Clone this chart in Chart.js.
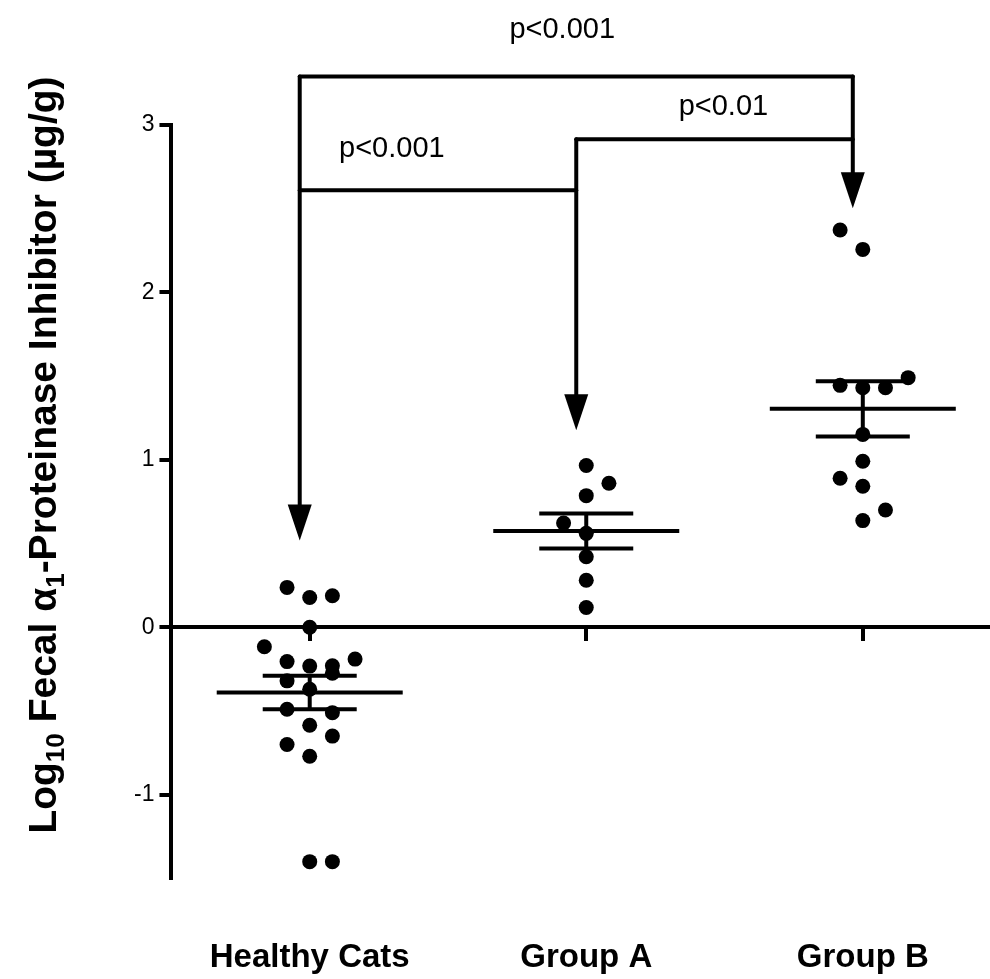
<!DOCTYPE html>
<html>
<head>
<meta charset="utf-8">
<script src="https://cdn.jsdelivr.net/npm/chart.js@4.4.1/dist/chart.umd.min.js"></script>
<style>
  body { margin: 0; background: #fff; }
</style>
</head>
<body>
<canvas id="myChart" width="990" height="979"></canvas>
<script>

var categories = ['Healthy Cats', 'Group A', 'Group B'];

// log10 values, lane = column of the dot inside its group
var healthyValues = [0.238, 0.178, 0.188, 0.0, -0.116, -0.205, -0.232, -0.23, -0.275, -0.19,
                     -0.32, -0.37, -0.49, -0.51, -0.585, -0.70, -0.65, -0.77, -1.40, -1.40];
var healthyLanes  = [-1, 0, 1, 0, -2, -1, 0, 1, 1, 2,
                     -1, 0, -1, 1, 0, -1, 1, 0, 0, 1];

var groupAValues = [0.966, 0.86, 0.786, 0.623, 0.561, 0.421, 0.281, 0.118];
var groupALanes  = [0, 1, 0, -1, 0, 0, 0, 0];

var groupBValues = [2.373, 2.257, 1.491, 1.445, 1.431, 1.431, 1.152, 0.992, 0.890, 0.842, 0.70, 0.637];
var groupBLanes  = [-1, 0, 2, -1, 0, 1, 0, 0, -1, 0, 1, 0];

var meanValues = [-0.39, 0.575, 1.305];
var semValues = [0.10, 0.105, 0.165];

var yTicks = [-1, 0, 1, 2, 3];

// significance brackets
var comparisons = [
    { from: 0, to: 2, level: 3.29, text: 'p<0.001', textX: 0.913, textY: 3.52 },
    { from: 0, to: 1, level: 2.61, text: 'p<0.001', textX: 0.297, textY: 2.81 },
    { from: 1, to: 2, level: 2.915, text: 'p<0.01', textX: 1.496, textY: 3.06 }
];
var arrowTips = [0.518, 1.177, 2.503];

var laneWidth = 0.082;
var font = '"Liberation Sans", Arial, Helvetica, sans-serif';

function dots(values, lanes, group) {
    var pts = [];
    for (var i = 0; i != values.length; i++) {
        pts.push({ x: group + lanes[i] * laneWidth, y: values[i] });
    }
    return pts;
}

var datasets = [];

datasets.push({
    type: 'scatter',
    data: dots(healthyValues, healthyLanes, 0)
        .concat(dots(groupAValues, groupALanes, 1))
        .concat(dots(groupBValues, groupBLanes, 2)),
    pointRadius: 7.5,
    pointBackgroundColor: '#000',
    pointBorderWidth: 0
});

// mean lines
datasets.push({
    type: 'scatter',
    data: meanValues.map(function (m, i) { return { x: i, y: m }; }),
    pointStyle: 'line',
    pointRadius: 93,
    pointBorderColor: '#000',
    pointBorderWidth: 4
});

// SEM caps
var caps = [];
for (var i = 0; i != meanValues.length; i++) {
    caps.push({ x: i, y: meanValues[i] + semValues[i] });
    caps.push({ x: i, y: meanValues[i] - semValues[i] });
}
datasets.push({
    type: 'scatter',
    data: caps,
    pointStyle: 'line',
    pointRadius: 47,
    pointBorderColor: '#000',
    pointBorderWidth: 4
});

// SEM vertical bars
for (var i = 0; i != meanValues.length; i++) {
    datasets.push({
        type: 'line',
        data: [{ x: i, y: meanValues[i] - semValues[i] }, { x: i, y: meanValues[i] + semValues[i] }],
        borderColor: '#000',
        borderWidth: 4,
        pointRadius: 0
    });
}

function categoryTicks(scale) {
    scale.ticks = [{ value: 0 }, { value: 1 }, { value: 2 }];
}

var bracketPlugin = {
    id: 'brackets',
    afterDatasetsDraw: function (chart) {
        var ctx = chart.ctx;
        var xs = chart.scales.x, ys = chart.scales.y;
        var ax = function (g) { return xs.getPixelForValue(g) - 10; };
        ctx.save();
        ctx.strokeStyle = '#000';
        ctx.fillStyle = '#000';
        ctx.lineWidth = 4;
        ctx.lineCap = 'round';
        ctx.lineJoin = 'round';

        comparisons.forEach(function (c) {
            var py = ys.getPixelForValue(c.level);
            ctx.beginPath();
            ctx.moveTo(ax(c.from), py);
            ctx.lineTo(ax(c.to), py);
            ctx.stroke();
        });

        for (var g = 0; g != arrowTips.length; g++) {
            var top = null;
            comparisons.forEach(function (c) {
                if (c.from == g || c.to == g) {
                    if (top === null || c.level > top) top = c.level;
                }
            });
            var x = ax(g);
            var tip = ys.getPixelForValue(arrowTips[g]);
            ctx.beginPath();
            ctx.moveTo(x, ys.getPixelForValue(top));
            ctx.lineTo(x, tip - 34);
            ctx.stroke();
            ctx.beginPath();
            ctx.moveTo(x - 12, tip - 36);
            ctx.lineTo(x + 12, tip - 36);
            ctx.lineTo(x, tip);
            ctx.closePath();
            ctx.fill();
        }

        ctx.font = '29px ' + font;
        ctx.textAlign = 'center';
        ctx.textBaseline = 'alphabetic';
        comparisons.forEach(function (c) {
            ctx.fillText(c.text, xs.getPixelForValue(c.textX), ys.getPixelForValue(c.textY));
        });
        ctx.restore();
    }
};

var yTitlePlugin = {
    id: 'yTitle',
    afterDraw: function (chart) {
        var ctx = chart.ctx;
        var parts = [['Log', 0], ['10', 1], [' Fecal \u03b1', 0], ['1', 1], ['-Proteinase Inhibitor (\u00b5g/g)', 0]];
        var big = 'bold 39px ' + font, small = 'bold 26px ' + font;
        ctx.save();
        ctx.translate(56, 455);
        ctx.rotate(-Math.PI / 2);
        ctx.fillStyle = '#000';
        ctx.textBaseline = 'alphabetic';
        ctx.textAlign = 'left';
        var total = 0;
        parts.forEach(function (p) {
            ctx.font = p[1] ? small : big;
            total += ctx.measureText(p[0]).width;
        });
        var x = -total / 2;
        parts.forEach(function (p) {
            ctx.font = p[1] ? small : big;
            ctx.fillText(p[0], x, p[1] ? 8 : 0);
            x += ctx.measureText(p[0]).width;
        });
        ctx.restore();
    }
};

var config = {
    type: 'scatter',
    data: { datasets: datasets },
    options: {
        responsive: false,
        animation: false,
        layout: { autoPadding: false, padding: { left: 129, top: 125, right: 0, bottom: -51 } },
        plugins: {
            legend: { display: false },
            tooltip: { enabled: false }
        },
        scales: {
            x: {
                type: 'linear',
                position: { y: 0 },
                min: -0.5,
                max: 2.46,
                afterBuildTicks: categoryTicks,
                ticks: { display: false },
                grid: { drawOnChartArea: false, drawTicks: true, tickLength: 12, lineWidth: 4, color: '#000' },
                border: { display: true, width: 4, color: '#000' }
            },
            x2: {
                type: 'linear',
                position: 'bottom',
                min: -0.5,
                max: 2.46,
                afterBuildTicks: categoryTicks,
                ticks: {
                    padding: 52,
                    color: '#000',
                    font: { family: font, size: 33, weight: 'bold' },
                    callback: function (v) { return categories[v]; }
                },
                grid: { display: false },
                border: { display: false }
            },
            y: {
                type: 'linear',
                min: -1.5,
                max: 3,
                afterBuildTicks: function (scale) {
                    scale.ticks = yTicks.map(function (v) { return { value: v }; });
                },
                ticks: {
                    padding: 5,
                    color: '#000',
                    font: { family: font, size: 23 }
                },
                grid: { drawOnChartArea: false, drawTicks: true, tickLength: 12, lineWidth: 4, color: '#000' },
                border: { display: true, width: 4, color: '#000' }
            }
        }
    },
    plugins: [bracketPlugin, yTitlePlugin]
};

var chart = new Chart(document.getElementById('myChart'), config);

</script>
</body>
</html>
